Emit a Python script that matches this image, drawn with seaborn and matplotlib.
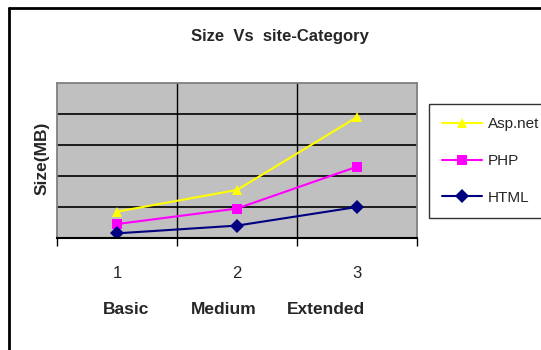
import matplotlib
matplotlib.use("Agg")
import matplotlib.pyplot as plt
import seaborn as sns
import pandas as pd
from matplotlib.lines import Line2D

categories = ["1", "2", "3"]
series_names = ["Asp.net", "PHP", "HTML"]
asp_net = [0.85, 1.55, 3.9]
php = [0.45, 0.95, 2.3]
html = [0.15, 0.4, 1.0]
category_names = ["Basic", "Medium", "Extended"]

df = pd.DataFrame({
    "cat": categories * 3,
    "series": [s for s in series_names for _ in categories],
    "size": asp_net + php + html,
})

sns.set_theme(style="white")
plt.rcParams["font.family"] = ["Liberation Sans", "DejaVu Sans"]

fig = plt.figure(figsize=(5.41, 3.5), dpi=100)
ax = fig.add_axes([57/541, 1-238/350, (417-57)/541, (238-83)/350])

palette = {"Asp.net": "#FFFF00", "PHP": "#FF00FF", "HTML": "#000080"}
markers = {"Asp.net": "^", "PHP": "s", "HTML": "D"}
sns.lineplot(data=df, x="cat", y="size", hue="series", style="series",
             palette=palette, markers=markers, dashes=False, ax=ax,
             linewidth=1.5, markersize=7, markeredgewidth=0, legend=False,
             sort=False)

ax.set_facecolor("#C0C0C0")
ax.set_xlim(-0.5, 2.5)
ax.set_ylim(0, 5)
ax.set_xticks([0, 1, 2])
ax.set_xticklabels(categories, fontsize=12)
ax.set_xticks([-0.5, 0.5, 1.5, 2.5], minor=True)
ax.tick_params(axis="x", which="major", length=0, pad=20)
ax.tick_params(axis="x", which="minor", length=6, width=1, color="black", direction="out", bottom=True)
ax.set_yticks([0, 1, 2, 3, 4, 5])
ax.set_yticklabels([])
ax.tick_params(axis="y", length=0)
ax.grid(False)
for y in [1, 2, 3, 4]:
    ax.axhline(y, color="black", linewidth=1.2, zorder=0.5)
for x in [0.5, 1.5]:
    ax.axvline(x, color="black", linewidth=1.0, zorder=0.5)
for side in ["top", "left", "right"]:
    ax.spines[side].set_color("#808080")
    ax.spines[side].set_linewidth(1.3)
ax.spines["bottom"].set_color("black")
ax.spines["bottom"].set_linewidth(1.5)
ax.set_xlabel("")
ax.set_ylabel("")
fig.text(42/541, 1-158/350, "Size(MB)", rotation=90, ha="center", va="center",
         fontsize=12.5, fontweight="bold")

fig.text(280/541, 1-37/350, "Size  Vs  site-Category", ha="center", va="center",
         fontsize=12, fontweight="bold")
for xc, name in zip([126, 224, 326], category_names):
    fig.text(xc/541, 1-310/350, name, ha="center", va="center", fontsize=12.5,
             fontweight="bold")

handles = [Line2D([], [], color=palette[s], marker=markers[s], markersize=7,
                  markeredgewidth=0, linewidth=1.5) for s in series_names]
leg = fig.legend(handles, series_names, loc="upper left",
                 bbox_to_anchor=(429/541, 1-104/350), frameon=True,
                 prop={"size": 11},
                 handlelength=2.6, labelspacing=1.5,
                 borderpad=0.85, handletextpad=0.4, fancybox=False,
                 borderaxespad=0)
leg.get_frame().set_edgecolor("black")
leg.get_frame().set_linewidth(1.0)

# outer border: top and left only
fig.add_artist(Line2D([9/541, 1], [1-8/350, 1-8/350], color="black", linewidth=2,
                      transform=fig.transFigure))
fig.add_artist(Line2D([9/541, 9/541], [0, 1-8/350], color="black", linewidth=2,
                      transform=fig.transFigure))

fig.savefig("out.png", dpi=100, facecolor="white")
